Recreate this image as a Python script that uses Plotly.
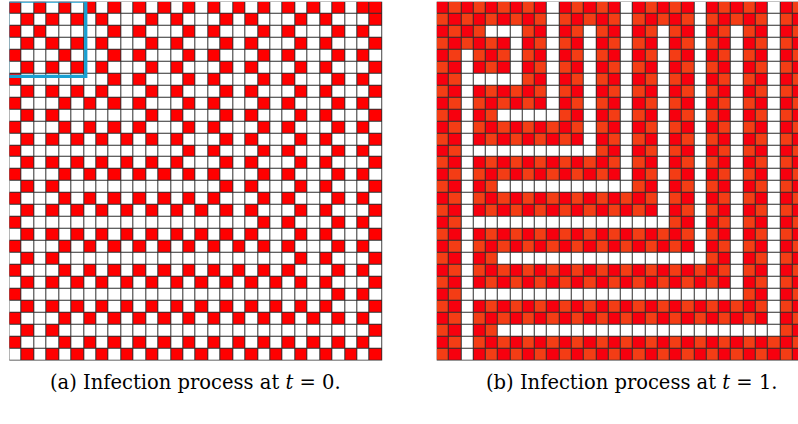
import plotly.graph_objects as go

W, H = 798, 424

# ---- data: cell states ('.' = healthy, 'R' = infected at t=0, 'O' = newly infected) ----
left_rows = [
    "R.R.R.R.R." "R.R.R.R.R." "R.R.R.R.RR",
    ".R.R.R.R.." ".R.R...R.R" "...R.R...R",
    "R.R.....R." "R...R.R..." "R.R...R.R.",
    ".R.R.R.R.." ".R.R...R.R" "...R.R...R",
    "R...R...R." "R...R.R..." "R.R...R.R.",
    ".R.R.R.R.." ".R.R...R.R" "...R.R...R",
    "R.......R." "R...R.R..." "R.R...R.R.",
    ".R.R.R.R.." ".R.R...R.R" "...R.R...R",
    "R...R.R.R." "R...R.R..." "R.R...R.R.",
    ".R.R......" ".R.R...R.R" "...R.R...R",
    "R...R.R.R." "R...R.R..." "R.R...R.R.",
    ".R.R.R.R.R" ".R.R...R.R" "...R.R...R",
    "R........." "....R.R..." "R.R...R.R.",
    ".R.R.R.R.R" ".R.R...R.R" "...R.R...R",
    "R...R.R.R." "R.R.R.R..." "R.R...R.R.",
    ".R.R......" ".......R.R" "...R.R...R",
    "R...R.R.R." "R.R.R.R..." "R.R...R.R.",
    ".R.R.R.R.R" ".R.R.R.R.R" "...R.R...R",
    "R........." ".........." "R.R...R.R.",
    ".R.R.R.R.R" ".R.R.R.R.R" "...R.R...R",
    "R...R.R.R." "R.R.R.R.R." "R.R...R.R.",
    ".R.R......" ".........." "...R.R...R",
    "R...R.R.R." "R.R.R.R.R." "R.R...R.R.",
    ".R.R.R.R.R" ".R.R.R.R.R" ".R.R.R...R",
    "R........." ".........." "......R.R.",
    ".R.R.R.R.R" ".R.R.R.R.R" ".R.R.R...R",
    "R...R.R.R." "R.R.R.R.R." "R.R.R.R.R.",
    ".R.R......" ".........." ".........R",
    "R...R.R.R." "R.R.R.R.R." "R.R.R.R.R.",
    ".R.R.R.R.R" ".R.R.R.R.R" ".R.R.R.R.R",
]

right_rows = [
    "ROROROROR." "ROROR.RORO" "R.ROROR.RO",
    "ORORORORO." "ORORO.OROR" "O.ORORO.OR",
    "RORO...OR." "RO.OR.RO.O" "R.RO.OR.RO",
    "OROROR.RO." "OR.RO.OR.R" "O.OR.RO.OR",
    "RO.ORO.OR." "RO.OR.RO.O" "R.RO.OR.RO",
    "OR.ROR.RO." "OR.RO.OR.R" "O.OR.RO.OR",
    "RO.....OR." "RO.OR.RO.O" "R.RO.OR.RO",
    "OR.RORORO." "OR.RO.OR.R" "O.OR.RO.OR",
    "RO.OROROR." "RO.OR.RO.O" "R.RO.OR.RO",
    "OR.RO....." "OR.RO.OR.R" "O.OR.RO.OR",
    "RO.ORORORO" "RO.OR.RO.O" "R.RO.OR.RO",
    "OR.ROROROR" "OR.RO.OR.R" "O.OR.RO.OR",
    "RO........" "...OR.RO.O" "R.RO.OR.RO",
    "OR.ROROROR" "ORORO.OR.R" "O.OR.RO.OR",
    "RO.ORORORO" "ROROR.RO.O" "R.RO.OR.RO",
    "OR.RO....." "......OR.R" "O.OR.RO.OR",
    "RO.ORORORO" "RORORORO.O" "R.RO.OR.RO",
    "OR.ROROROR" "OROROROR.R" "O.OR.RO.OR",
    "RO........" ".........O" "R.RO.OR.RO",
    "OR.ROROROR" "OROROROROR" "O.OR.RO.OR",
    "RO.ORORORO" "RORORORORO" "R.RO.OR.RO",
    "OR.RO....." ".........." "..OR.RO.OR",
    "RO.ORORORO" "RORORORORO" "RORO.OR.RO",
    "OR.ROROROR" "OROROROROR" "OROR.RO.OR",
    "RO........" ".........." ".....OR.RO",
    "OR.ROROROR" "OROROROROR" "ORORORO.OR",
    "RO.ORORORO" "RORORORORO" "ROROROR.RO",
    "OR.RO....." ".........." "........OR",
    "RO.ORORORO" "RORORORORO" "RORORORORO",
    "OR.ROROROR" "OROROROROR" "OROROROROR",
]

captions = ["(a) Infection process at <i>t</i> = 0.", "(b) Infection process at <i>t</i> = 1."]

state_code = {".": 0, "R": 1, "O": 2}
z_left = [[state_code[ch] for ch in row] for row in left_rows]
z_right = [[state_code[ch] for ch in row] for row in right_rows]
n_rows = len(left_rows)
n_cols = len(left_rows[0])
idx_r = list(range(n_rows))
idx_c = list(range(n_cols))


def scale(c_healthy, c_init, c_new):
    return [[0.0, c_healthy], [0.3333, c_healthy], [0.3333, c_init], [0.6667, c_init],
            [0.6667, c_new], [1.0, c_new]]


fig = go.Figure()
fig.add_trace(go.Heatmap(z=z_left, x=idx_c, y=idx_r, zmin=0, zmax=2,
                         colorscale=scale("#ffffff", "#ff0000", "#f43d15"),
                         showscale=False, xgap=1, ygap=1, hoverinfo="skip",
                         xaxis="x", yaxis="y"))
fig.add_trace(go.Heatmap(z=z_right, x=idx_c, y=idx_r, zmin=0, zmax=2,
                         colorscale=scale("#ffffff", "#f7000e", "#f43d15"),
                         showscale=False, xgap=1, ygap=1, hoverinfo="skip",
                         xaxis="x2", yaxis="y2"))

# geometry (pixels)
top_px, bot_px = 1.7, 360.5
lx0, lx1 = 9.3, 382.2
rx0, rcell = 436.7, 12.27

ax_common = dict(showticklabels=False, showgrid=False, zeroline=False, ticks="",
                 showline=False, fixedrange=True)
fig.update_layout(
    width=W, height=H,
    margin=dict(l=0, r=0, t=0, b=0),
    paper_bgcolor="white", plot_bgcolor="#2e2e2e",
    showlegend=False,
    xaxis=dict(domain=[lx0 / W, lx1 / W], range=[-0.5, n_cols - 0.5], **ax_common),
    yaxis=dict(domain=[1 - bot_px / H, 1 - top_px / H], range=[n_rows - 0.5, -0.5],
               anchor="x", **ax_common),
    xaxis2=dict(domain=[rx0 / W, 1.0], range=[-0.5, -0.5 + (W - rx0) / rcell],
                anchor="y2", **ax_common),
    yaxis2=dict(domain=[1 - bot_px / H, 1 - top_px / H], range=[n_rows - 0.5, -0.5],
                anchor="x2", **ax_common),
)

# highlighted 6x6 block
fig.add_shape(type="rect", xref="x", yref="y", x0=-0.63, x1=5.65, y0=-0.55, y1=5.75,
              line=dict(color="#1aa0d2", width=3.3), fillcolor="rgba(0,0,0,0)")

cap_y = 1 - 382 / H
for cx, txt in zip([195.5 / W, 631.5 / W], captions):
    fig.add_annotation(x=cx, y=cap_y, xref="paper", yref="paper", text=txt,
                       showarrow=False, xanchor="center", yanchor="middle",
                       font=dict(family="DejaVu Serif", size=19.5, color="black"))

fig.write_html("out.html", config={"displayModeBar": False, "staticPlot": True},
               post_script="document.body.style.margin='0';")
